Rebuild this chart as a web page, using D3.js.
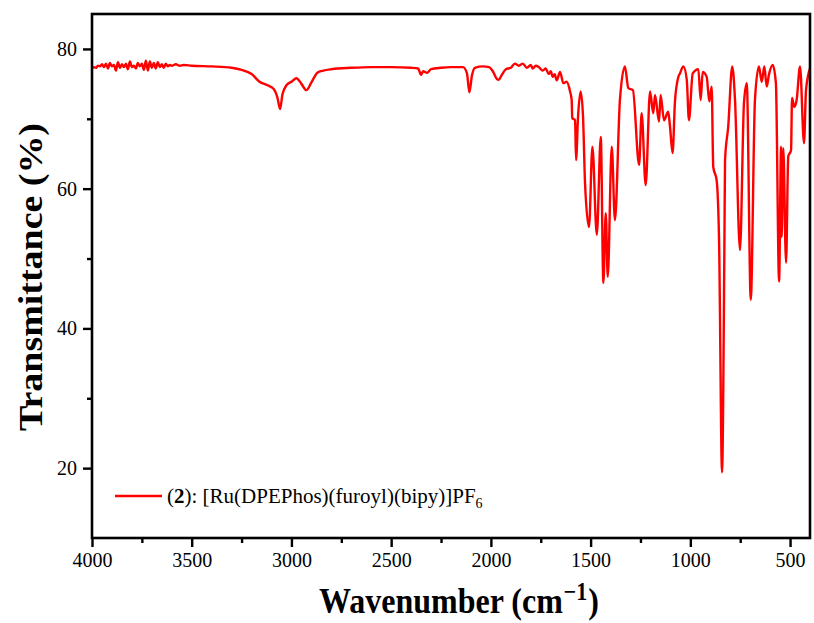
<!DOCTYPE html>
<html>
<head>
<meta charset="utf-8">
<script src="https://cdn.jsdelivr.net/npm/d3@7"></script>
<style>
  html, body { margin: 0; padding: 0; background: #fff; }
  svg { display: block; }
  svg text { font-family: "Liberation Serif", "Times New Roman", serif !important; fill: #000; }
</style>
</head>
<body>
<svg id="chart" width="814" height="623"></svg>
<script>
// ---- data ----
const wavenumber = [
  4000,3990,3980,3970,3960,3950,3940,3930,3920,3910,3900,3890,3880,3870,3860,3850,3840,3830,3820,3810,
  3800,3790,3780,3770,3760,3750,3740,3730,3720,3710,3700,3690,3680,3670,3660,3650,3640,3630,3620,3610,
  3600,3580,3560,3540,3500,3400,3300,3250,3200,3160,3120,3090,3070,3057,3045,3025,3000,2975,2950,2925,
  2900,2870,2840,2800,2700,2600,2500,2400,2365,2350,2340,2320,2300,2250,2200,2140,2120,2108,2095,2080,
  2040,2010,1990,1970,1960,1945,1925,1900,1880,1860,1840,1820,1800,1790,1775,1760,1740,1725,1710,1700,
  1690,1680,1670,1653,1637,1620,1603,1595,1592,1578,1573,1563,1550,1538,1528,1508,1491,1469,1449,1436,
  1424,1414,1394,1378,1353,1328,1311,1288,1257,1244,1224,1202,1186,1177,1157,1149,1132,1111,1102,1089,
  1077,1060,1052,1035,1018,1007,988,960,948,938,918,905,893,885,868,856,841,829,826,810,
  790,776,751,731,717,697,676,656,642,629,617,606,587,571,555,545,542,534,520,509,
  495,490,479,467,450,430,420,400
];
const transmittance = [
  77.2,77.4,77.3,77.6,77.5,77.8,77.4,77.9,77.2,78.0,77.5,77.7,76.9,78.1,77.3,77.8,77.4,77.9,77.1,78.2,
  77.4,77.6,77.2,78.0,77.5,77.9,77.0,78.3,76.9,78.2,77.3,78.0,77.2,78.1,77.4,77.8,77.3,77.9,77.5,77.7,
  77.6,77.8,77.6,77.7,77.6,77.5,77.3,77.0,76.4,75.3,74.8,74.3,73.0,71.4,73.5,74.8,75.3,75.8,75.0,74.1,
  75.2,76.6,76.9,77.1,77.3,77.4,77.4,77.3,77.2,76.3,76.8,76.6,77.1,77.3,77.4,77.4,76.5,73.8,76.2,77.3,
  77.5,77.4,76.8,75.7,75.6,76.3,77.1,77.3,77.9,77.6,77.9,77.3,77.7,77.2,77.6,77.4,76.9,77.2,76.4,76.8,
  76.0,76.4,75.5,76.7,75.1,75.3,73.9,72.7,70.1,69.8,64.1,70.3,73.9,70.3,60.8,54.5,66.0,53.4,67.4,46.5,
  56.5,47.4,66.0,55.5,72.7,77.5,74.4,74.1,63.4,70.8,60.5,73.9,70.8,73.4,69.6,73.4,69.8,71.0,68.9,65.1,
  72.5,76.0,76.5,77.5,75.6,69.8,76.5,77.1,72.7,76.7,76.0,72.5,74.6,63.1,61.2,52.7,19.4,52.7,64.1,68.9,
  77.5,72.7,51.2,72.3,75.1,44.1,72.7,77.5,75.3,77.5,74.6,76.3,77.7,75.1,46.7,66.0,53.1,65.8,49.4,64.6,
  65.5,73.0,71.7,72.7,77.5,66.5,74.1,77.2
];
const xTicks = [4000,3500,3000,2500,2000,1500,1000,500];
const xMinorTicks = [3750,3250,2750,2250,1750,1250,750];
const yTicks = [80,60,40,20];
const yMinorTicks = [70,50,30];
const seriesLabel = "[Ru(DPEPhos)(furoyl)(bipy)]PF";
const xTitle = "Wavenumber (cm";
const yTitle = "Transmittance (%)";

// ---- layout ----
const FONT = "Liberation Serif, Times New Roman, serif";
const svg = d3.select("#chart");
const L = 92, R = 810, T = 14, B = 538;
const x = d3.scaleLinear().domain([4000, 400]).range([L, R]);
const y = d3.scaleLinear().domain([10, 85]).range([B, T]);

// spectrum
const pts = wavenumber.map((w, i) => [w, transmittance[i]]);
svg.append("path")
  .datum(pts)
  .attr("fill", "none")
  .attr("stroke", "#ff0000")
  .attr("stroke-width", 2.4)
  .attr("stroke-linejoin", "round")
  .attr("d", d3.line().x(d => x(d[0])).y(d => y(d[1])).curve(d3.curveMonotoneX));

function styleAxis(g) {
  g.attr("font-family", FONT);
  g.select(".domain").remove();
  g.selectAll("line").attr("stroke", "#000").attr("stroke-width", 2.4);
  g.selectAll("text").attr("font-family", FONT).style("font-family", FONT).style("font-size", "20px");
}

// axes
svg.append("g").attr("transform", `translate(0,${B})`)
  .call(d3.axisBottom(x).tickValues(xTicks).tickSize(9).tickPadding(6).tickFormat(d3.format("d")))
  .call(styleAxis);
svg.append("g").attr("transform", `translate(0,${B})`)
  .call(d3.axisBottom(x).tickValues(xMinorTicks).tickSize(5).tickFormat(""))
  .call(styleAxis);
svg.append("g").attr("transform", `translate(${L},0)`)
  .call(d3.axisLeft(y).tickValues(yTicks).tickSize(9).tickPadding(6))
  .call(styleAxis);
svg.append("g").attr("transform", `translate(${L},0)`)
  .call(d3.axisLeft(y).tickValues(yMinorTicks).tickSize(5).tickFormat(""))
  .call(styleAxis);

// frame
svg.append("rect")
  .attr("x", L).attr("y", T).attr("width", R - L).attr("height", B - T)
  .attr("fill", "none").attr("stroke", "#000").attr("stroke-width", 2.6);

// axis titles
const xt = svg.append("text")
  .attr("transform", `translate(459,613) scale(1,1.1)`)
  .attr("text-anchor", "middle")
  .style("font-size", "32px").style("font-weight", "bold");
xt.append("tspan").text(xTitle);
xt.append("tspan").text("\u2212").attr("dy", -12).attr("dx", 1).style("font-size", "22px");
xt.append("tspan").text("1").style("font-size", "22px");
xt.append("tspan").text(")").attr("dy", 12).attr("dx", 1);

svg.append("text")
  .attr("transform", `translate(42,${(T + B) / 2 + 1}) rotate(-90) scale(1.15,1)`)
  .attr("text-anchor", "middle")
  .style("font-size", "33px").style("font-weight", "bold")
  .text(yTitle);

// legend
svg.append("line")
  .attr("x1", 115).attr("x2", 162).attr("y1", 496).attr("y2", 496)
  .attr("stroke", "#ff0000").attr("stroke-width", 2.4);
const lt = svg.append("text").attr("x", 167).attr("y", 503).style("font-size", "21px");
lt.append("tspan").text("(");
lt.append("tspan").text("2").style("font-weight", "bold");
lt.append("tspan").text("): " + seriesLabel);
lt.append("tspan").text("6").attr("dy", 5).style("font-size", "14px");
</script>
</body>
</html>
